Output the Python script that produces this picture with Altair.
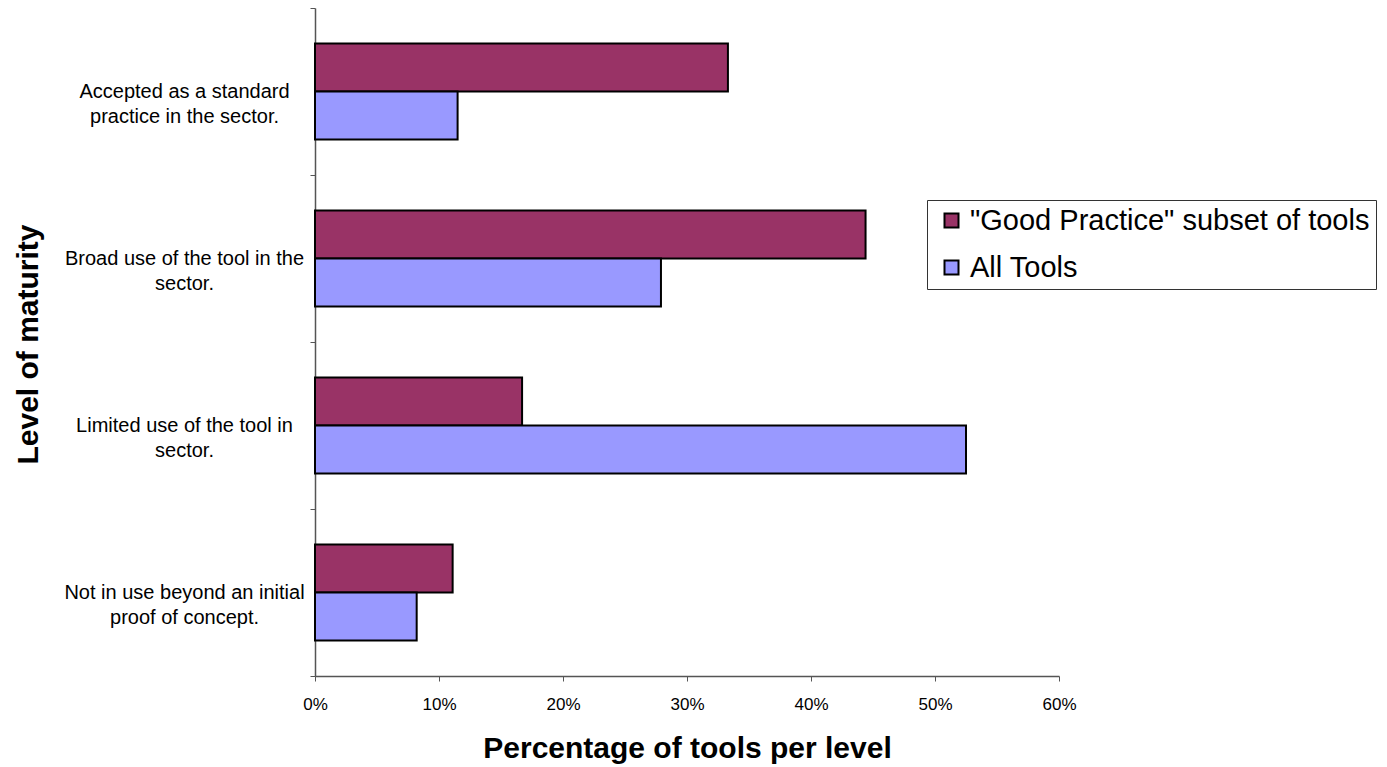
import altair as alt
import pandas as pd

categories = [
    "Accepted as a standard\npractice in the sector.",
    "Broad use of the tool in the\nsector.",
    "Limited use of the tool in\nsector.",
    "Not in use beyond an initial\nproof of concept.",
]
series = ['"Good Practice" subset of tools', "All Tools"]
good_practice = [33.3, 44.4, 16.7, 11.1]
all_tools = [11.5, 27.9, 52.5, 8.2]
x_ticks = [0, 10, 20, 30, 40, 50, 60]
colors = ["#993366", "#9999FF"]

rows = []
for cat, g, a in zip(categories, good_practice, all_tools):
    rows.append({"level": cat, "series": series[0], "pct": g})
    rows.append({"level": cat, "series": series[1], "pct": a})
df = pd.DataFrame(rows)

FONT = "Liberation Sans"

chart = alt.Chart(df).mark_bar(stroke="black", strokeWidth=2).encode(
    y=alt.Y(
        "level:N",
        sort=categories,
        scale=alt.Scale(paddingInner=0, paddingOuter=0),
        axis=alt.Axis(
            title="Level of maturity",
            titleFont=FONT,
            titleFontSize=30,
            titleFontWeight="bold",
            titleColor="black",
            titleAngle=270,
            titleBaseline="alphabetic",
            titleAlign="center",
            titleX=-278,
            titleY=336,
            labelExpr="split(datum.label, '\\n')",
            labelFont=FONT,
            labelFontSize=20,
            labelLineHeight=25,
            labelColor="black",
            labelAlign="center",
            labelBaseline="middle",
            labelPadding=126,
            labelLimit=400,
            tickBand="extent",
            tickSize=5,
            tickColor="#555555",
            domainColor="#555555",
            domainWidth=1.5,
            grid=False,
        ),
    ),
    yOffset=alt.YOffset(
        "series:N",
        sort=series,
        scale=alt.Scale(domain=series, paddingInner=0, paddingOuter=0.74),
    ),
    x=alt.X(
        "pct:Q",
        scale=alt.Scale(domain=[0, 60], nice=False),
        axis=alt.Axis(
            values=x_ticks,
            labelExpr="datum.value + '%'",
            labelFlush=False,
            title="Percentage of tools per level",
            titleFont=FONT,
            titleFontSize=30,
            titleFontWeight="bold",
            titleColor="black",
            titleBaseline="alphabetic",
            titleY=81,
            labelFont=FONT,
            labelFontSize=17,
            labelColor="black",
            labelPadding=15,
            tickSize=5,
            tickColor="#555555",
            domainColor="#555555",
            domainWidth=1.5,
            grid=False,
        ),
    ),
    color=alt.Color(
        "series:N",
        sort=series,
        scale=alt.Scale(domain=series, range=colors),
        legend=alt.Legend(
            title=None,
            orient="none",
            legendX=612,
            legendY=192,
            strokeColor="#333333",
            fillColor="white",
            padding=6,
            symbolOffset=4,
            symbolType="square",
            symbolSize=196,
            symbolStrokeColor="black",
            symbolStrokeWidth=2,
            symbolOpacity=1,
            labelFont=FONT,
            labelFontSize=29,
            labelColor="black",
            labelOffset=4,
            labelLimit=600,
            rowPadding=17,
        ),
    ),
).properties(
    width=744,
    height=668,
    padding={"left": 315, "top": 8, "right": 328, "bottom": 91},
    autosize="none",
).configure_view(stroke=None)

chart.save("out.html", embed_options={"renderer": "svg", "actions": False})
